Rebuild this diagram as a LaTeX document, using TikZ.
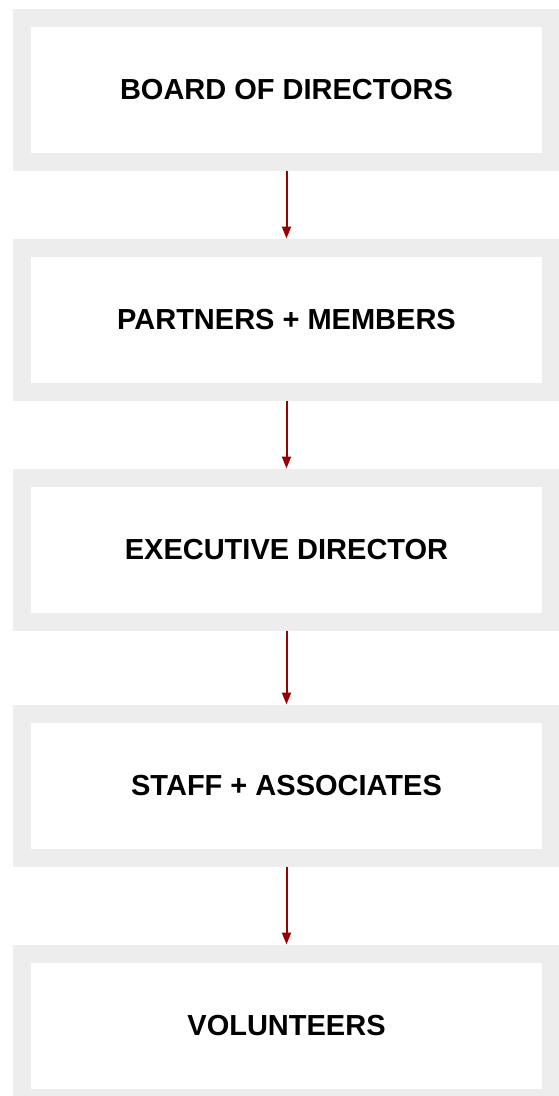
\documentclass[tikz,border=0pt]{standalone}
\usepackage{fontspec}
\setmainfont{Liberation Sans}
\usetikzlibrary{arrows.meta}
\definecolor{boxgray}{HTML}{EDEDED}
\definecolor{arrowred}{HTML}{9A0000}
\begin{document}
\begin{tikzpicture}[x=1pt, y=-1pt,
    level/.style={draw=boxgray, line width=18pt, fill=white, minimum width=529pt, minimum height=144pt, inner sep=0pt, font=\fontsize{29}{33}\selectfont\bfseries},
    link/.style={draw=arrowred, line width=2pt, -{Triangle[length=12pt, width=9pt]}}]
                \useasboundingbox (0, 0) rectangle (558, 1096);

                \node[level] (A) at (286.5, 89.5) {BOARD OF DIRECTORS};
                \node[level] (B) at (286.5, 319.5) {PARTNERS + MEMBERS};
                \node[level] (C) at (286.5, 549.5) {EXECUTIVE DIRECTOR};
                \node[level] (D) at (286.5, 785.5) {STAFF + ASSOCIATES};
                \node[level] (E) at (286.5, 1025.5) {VOLUNTEERS};

                \draw[link] (A) to (B);
                \draw[link] (B) to (C);
                \draw[link] (C) to (D);
                \draw[link] (D) to (E);
            \end{tikzpicture}
\end{document}
